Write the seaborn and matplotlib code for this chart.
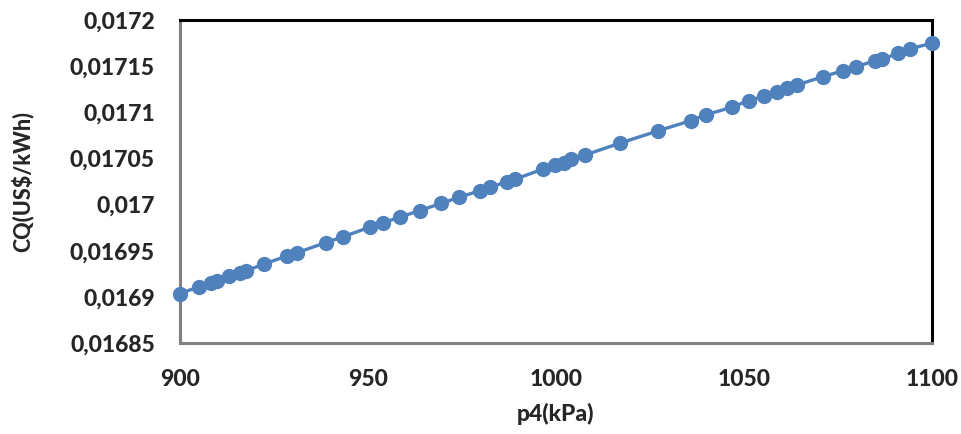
import matplotlib
matplotlib.use("Agg")
import matplotlib.pyplot as plt
import seaborn as sns
import pandas as pd

p4_kpa = [900.0, 905.1, 908.2, 909.8, 913.1, 916.0, 917.6, 922.4, 928.4, 931.1,
          938.7, 943.4, 950.6, 954.1, 958.4, 963.7, 969.5, 974.3, 979.7, 982.4,
          987.0, 989.1, 996.5, 999.8, 1002.0, 1004.1, 1007.7, 1016.9, 1027.0, 1035.8,
          1039.8, 1046.9, 1051.2, 1055.4, 1058.7, 1061.5, 1064.1, 1071.0, 1076.4, 1079.8,
          1084.9, 1086.6, 1091.0, 1094.2, 1100.0]
cq = [0.0169036, 0.0169110, 0.0169153, 0.0169175, 0.0169226, 0.0169255, 0.0169283,
      0.0169356, 0.0169443, 0.0169478, 0.0169587, 0.0169652, 0.0169757, 0.0169804,
      0.0169862, 0.0169934, 0.0170014, 0.0170079, 0.0170150, 0.0170187, 0.0170248,
      0.0170274, 0.0170385, 0.0170429, 0.0170454, 0.0170491, 0.0170537, 0.0170664,
      0.0170797, 0.0170909, 0.0170971, 0.0171057, 0.0171126, 0.0171176, 0.0171223,
      0.0171260, 0.0171296, 0.0171386, 0.0171451, 0.0171494, 0.0171559, 0.0171574,
      0.0171639, 0.0171689, 0.0171748]

x_ticks = [900, 950, 1000, 1050, 1100]
y_ticks = [0.01685, 0.0169, 0.01695, 0.017, 0.01705, 0.0171, 0.01715, 0.0172]
y_tick_labels = ["0,01685", "0,0169", "0,01695", "0,017", "0,01705", "0,0171", "0,01715", "0,0172"]

df = pd.DataFrame({"p4": p4_kpa, "cq": cq})

sns.set_style("white")
plt.rcParams["font.family"] = ["Lato", "DejaVu Sans"]

fig = plt.figure(figsize=(9.62, 4.34), dpi=100)
ax = fig.add_axes([180/962, 1 - 343/434, (932-180)/962, (343-20)/434])

blue = "#4F81BD"
sns.lineplot(data=df, x="p4", y="cq", ax=ax, color=blue, linewidth=2.4,
             marker="o", markersize=11, markeredgewidth=0, markerfacecolor=blue,
             sort=False, clip_on=False, zorder=3)

ax.set_xlim(900, 1100)
ax.set_ylim(0.01685, 0.0172)
ax.set_xticks(x_ticks)
ax.set_xticklabels([str(t) for t in x_ticks])
ax.set_yticks(y_ticks)
ax.set_yticklabels(y_tick_labels)
ax.tick_params(axis="both", length=0, labelsize=16.5)
ax.tick_params(axis="y", pad=18)
ax.tick_params(axis="x", pad=19)
for lab in ax.get_xticklabels() + ax.get_yticklabels():
    lab.set_fontweight("black")

ax.set_xlabel("p4(kPa)", fontsize=16.5, fontweight="black", labelpad=9)
ax.set_ylabel("CQ(US$/kWh)", fontsize=15.5, fontweight="black", labelpad=26)

for s in ["top", "right"]:
    ax.spines[s].set_color("black")
    ax.spines[s].set_linewidth(2.2)
for s in ["left", "bottom"]:
    ax.spines[s].set_color("#808080")
    ax.spines[s].set_linewidth(2.2)
for s in ax.spines.values():
    s.set_visible(True)
    s.set_zorder(2)

fig.savefig("out.png", dpi=100)
